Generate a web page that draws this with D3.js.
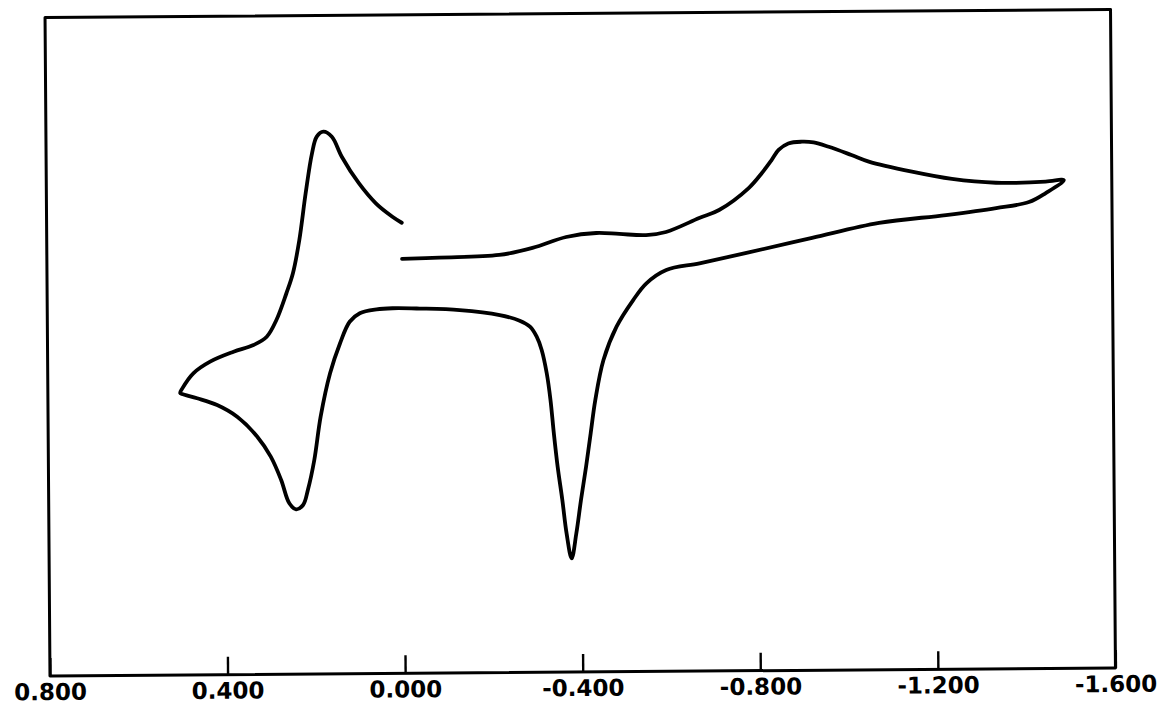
<!DOCTYPE html>
<html>
<head>
<meta charset="utf-8">
<script src="https://cdn.jsdelivr.net/npm/d3@7"></script>
<style>
  html, body { margin: 0; padding: 0; background: #fff; }
  svg { display: block; }
</style>
</head>
<body>
<svg id="chart" width="1162" height="707"></svg>
<script>
// Cyclic voltammogram, listed in scan order: start at 0.000 V, sweep to -1.49 V,
// reverse to +0.50 V, then back to 0.000 V.
const potential = [
  0.000, -0.084, -0.219, -0.294, -0.370, -0.438, -0.490, -0.550, -0.595, -0.670,
  -0.715, -0.782, -0.812, -0.834, -0.850, -0.872, -0.902, -0.929, -0.963, -1.014,
  -1.053, -1.150, -1.240, -1.339, -1.451, -1.492,
  -1.451, -1.413, -1.339, -1.226, -1.075, -0.924, -0.776, -0.670, -0.595,
  -0.550, -0.520, -0.482, -0.452, -0.433, -0.422, -0.411, -0.399, -0.388, -0.377,
  -0.366, -0.357, -0.347, -0.339, -0.332, -0.324, -0.313, -0.302, -0.287, -0.264,
  -0.219, -0.129, -0.039, 0.022, 0.058, 0.096, 0.119, 0.141, 0.164, 0.186,
  0.201, 0.216, 0.227, 0.243, 0.258, 0.276, 0.299, 0.329, 0.374, 0.419,
  0.464, 0.498, 0.502,
  0.497, 0.472, 0.434, 0.381, 0.336, 0.306, 0.284, 0.261, 0.246, 0.231,
  0.216, 0.201, 0.190, 0.175, 0.156, 0.134, 0.096, 0.058, 0.021, 0.000
];
const current = [
  5.17, 5.24, 5.37, 5.78, 6.43, 6.66, 6.59, 6.51, 6.69, 7.52,
  8.00, 9.32, 10.23, 11.01, 11.62, 12.01, 12.11, 12.06, 11.79, 11.28,
  10.87, 10.24, 9.78, 9.53, 9.57, 9.66,
  8.88, 8.34, 7.99, 7.59, 7.14, 6.26, 5.38, 4.77, 4.38,
  3.58, 2.57, 0.96, -1.06, -3.48, -5.50, -7.53, -9.55, -11.57, -13.09,
  -11.57, -9.54, -7.52, -5.49, -3.46, -1.84, -0.42, 0.39, 1.00, 1.37,
  1.72, 2.04, 2.15, 2.18, 2.12, 1.89, 1.38, 0.08, -1.74, -4.37,
  -7.00, -8.82, -9.73, -9.99, -9.62, -8.20, -6.78, -5.56, -4.34, -3.62,
  -3.20, -2.93, -2.87,
  -2.59, -1.68, -0.98, -0.39, 0.01, 0.51, 1.52, 3.14, 4.35, 6.37,
  9.20, 11.63, 12.64, 12.94, 12.63, 11.41, 9.79, 8.56, 7.74, 7.37
];

// Potential axis (V)
const tickValues = [0.8, 0.4, 0.0, -0.4, -0.8, -1.2, -1.6];
const tickLabels = ["0.800", "0.400", "0.000", "-0.400", "-0.800", "-1.200", "-1.600"];

const width = 1162, height = 707;
const margin = { left: 47.5, right: 49, top: 13.5, bottom: 35 };

const x = d3.scaleLinear()
  .domain([0.8, -1.6])
  .range([margin.left, width - margin.right]);
const y = d3.scaleLinear()
  .domain([-20, 20])
  .range([height - margin.bottom, margin.top]);

const svg = d3.select("#chart");
// the recorder sheet sits very slightly tilted
const g = svg.append("g").attr("transform", "rotate(-0.43 579 343)");

// plot frame
g.append("rect")
  .attr("x", x(0.8))
  .attr("y", y(20))
  .attr("width", x(-1.6) - x(0.8))
  .attr("height", y(-20) - y(20))
  .attr("fill", "none")
  .attr("stroke", "#000")
  .attr("stroke-width", 3)
  .attr("stroke-linejoin", "round");

// bottom axis: short inward ticks and bold labels
const axis = g.append("g")
  .attr("transform", `translate(0,${y(-20)})`)
  .call(d3.axisBottom(x)
    .tickValues(tickValues)
    .tickSize(-18)
    .tickSizeOuter(0)
    .tickFormat((d, i) => tickLabels[i]));
axis.select(".domain").remove();
axis.selectAll(".tick line")
  .attr("stroke", "#000")
  .attr("stroke-width", 2.4);
axis.selectAll(".tick text")
  .attr("y", 24)
  .attr("dy", 0)
  .attr("fill", "#000")
  .style("font-family", "'DejaVu Sans', sans-serif")
  .style("font-weight", "bold")
  .style("font-size", "23px");

// voltammogram trace
const pts = potential.map((e, i) => [e, current[i]]);
const line = d3.line()
  .x(d => x(d[0]))
  .y(d => y(d[1]))
  .curve(d3.curveCatmullRom.alpha(0.5));

g.append("path")
  .datum(pts)
  .attr("d", line)
  .attr("fill", "none")
  .attr("stroke", "#000")
  .attr("stroke-width", 3.8)
  .attr("stroke-linejoin", "round")
  .attr("stroke-linecap", "round");
</script>
</body>
</html>
